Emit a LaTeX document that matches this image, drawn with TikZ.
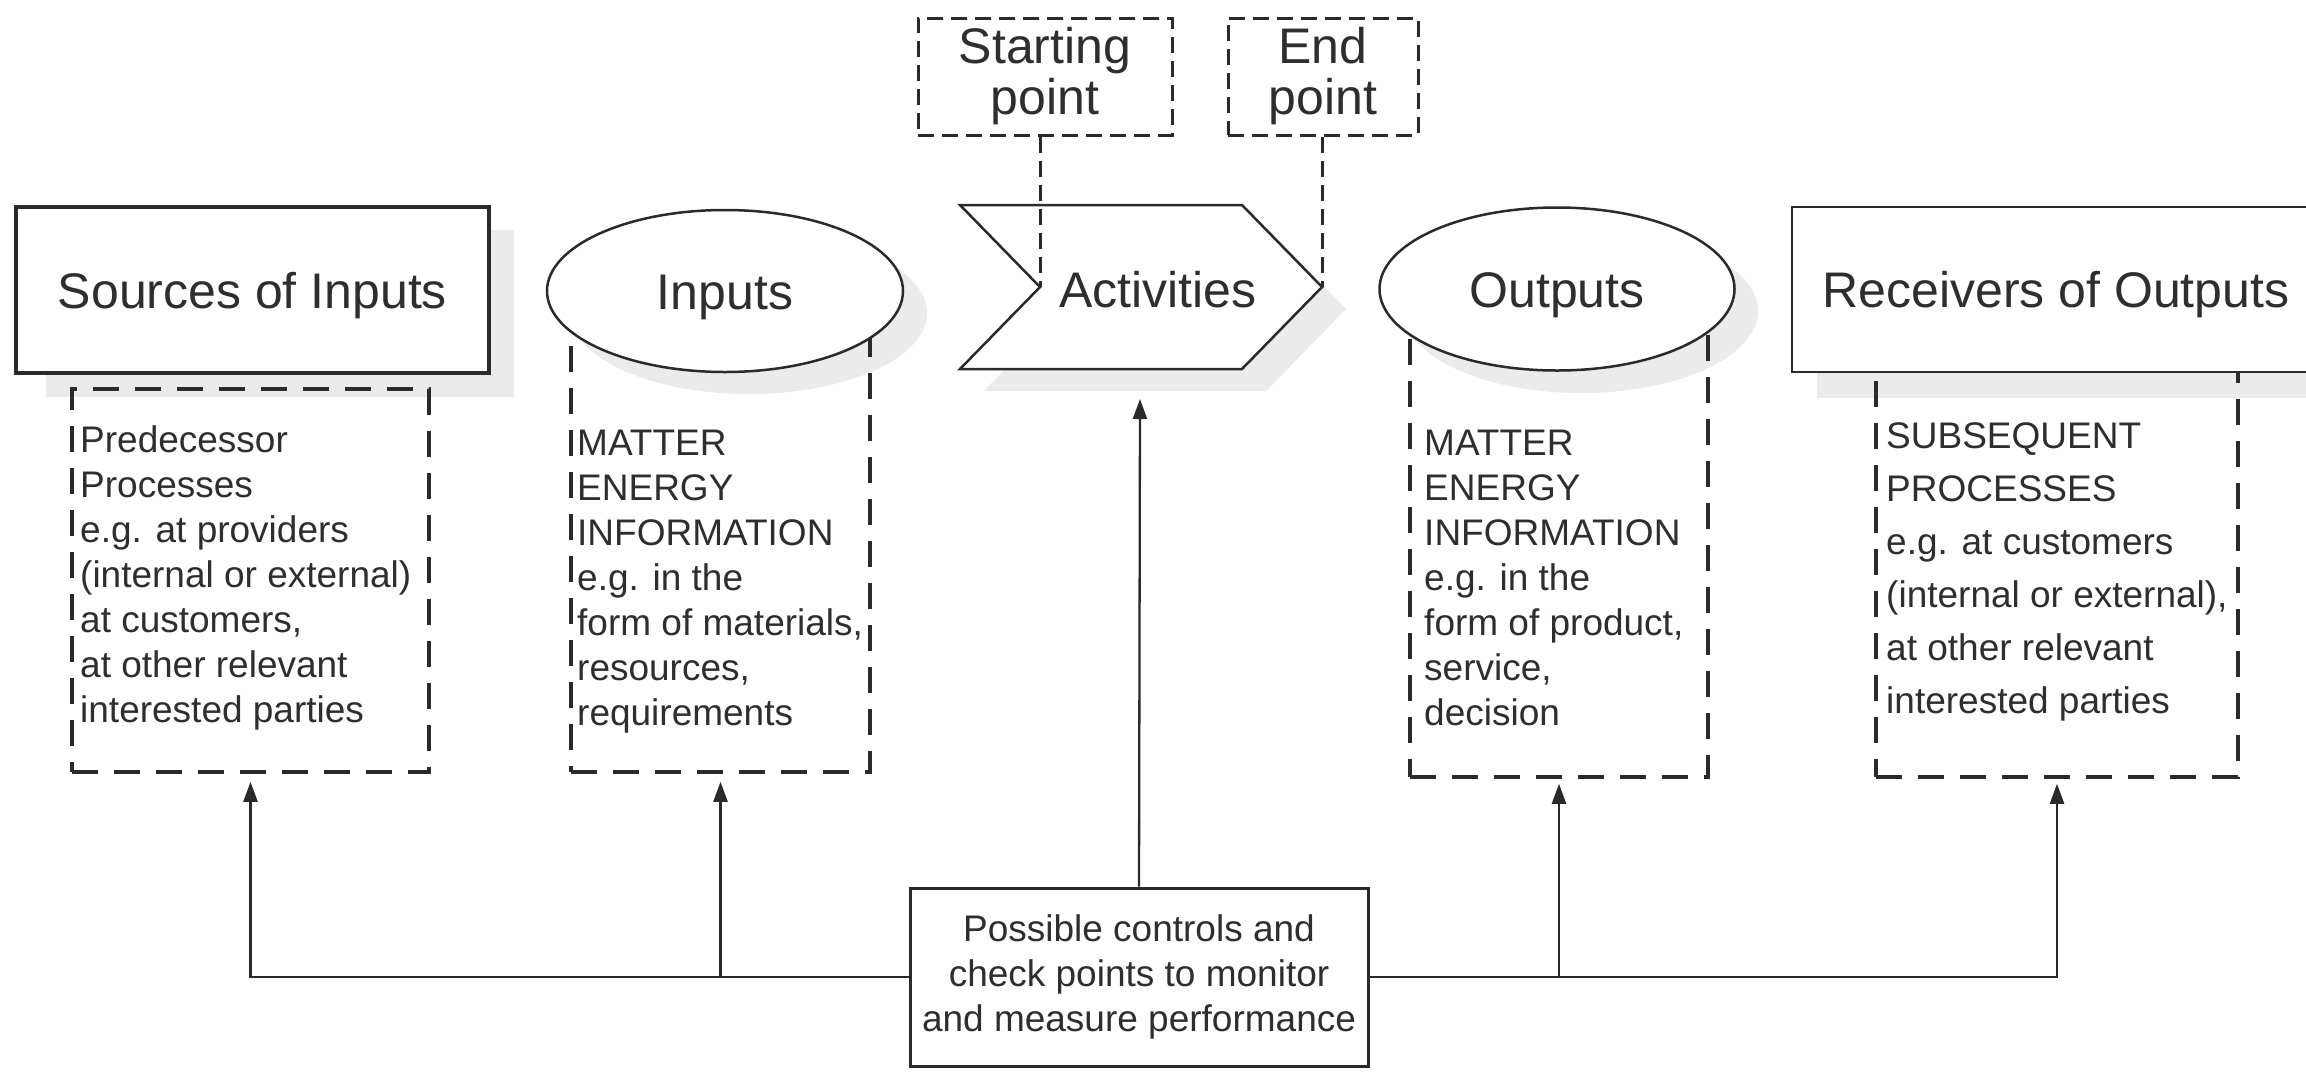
\documentclass[tikz,border=0pt]{standalone}
\usepackage{fontspec}
\setmainfont{Liberation Sans}
\usetikzlibrary{shapes.geometric,arrows.meta,calc}
\definecolor{ink}{HTML}{2A2A2A}
\definecolor{txt}{HTML}{2E2E2E}
\definecolor{shadowgray}{HTML}{EBEBEB}
\begin{document}
\begin{tikzpicture}[x=1pt,y=-1pt,
  heading/.style={font=\fontsize{50}{52}\selectfont, text=txt, text height=36pt, text depth=0pt},
  body/.style={font=\fontsize{37}{45}\selectfont, text=txt, inner sep=0pt},
  solidbox/.style={draw=ink, fill=white, rectangle},
  oval/.style={ellipse, draw=ink, fill=white, line width=2.5pt, inner sep=0pt},
  dbox/.style={draw=ink, line width=3.5pt, dash pattern=on 26pt off 16pt, rectangle, inner sep=0pt},
  tbox/.style={draw=ink, line width=3pt, dash pattern=on 16pt off 8pt, rectangle, inner sep=0pt, align=center, font=\fontsize{50}{51}\selectfont, text=txt},
  tline/.style={draw=ink, line width=3pt, dash pattern=on 16pt off 8pt},
  arr/.style={draw=ink, line width=2.3pt, -{Triangle[length=20pt,width=14pt]}},
  shadowfill/.style={fill=shadowgray, draw=none},
]
\fill[white] (0,0) rectangle (2306,1072);
\useasboundingbox (0,0) rectangle (2306,1072);

% shadows
\path[shadowfill] (46,230) rectangle (514,397);
\path[shadowfill] (749,313) ellipse [x radius=178pt, y radius=81pt];
\path[shadowfill] (984,227) -- (1266,227) -- (1346,309) -- (1266,391) -- (984,391) -- (1064,309) -- cycle;
\path[shadowfill] (1581,311) ellipse [x radius=177pt, y radius=82pt];
\path[shadowfill] (1817,230) rectangle (2306,398);

% dashed detail boxes
\node[dbox, minimum width=357pt, minimum height=383pt] (d1) at (250.5,580.5) {};
\node[dbox, minimum width=299pt, minimum height=481pt] (d2) at (720.5,531.5) {};
\node[dbox, minimum width=298pt, minimum height=488pt] (d3) at (1559,533) {};
\node[dbox, minimum width=362pt, minimum height=487pt] (d4) at (2057,533.5) {};

% main shapes
\node[solidbox, line width=4.5pt, minimum width=473pt, minimum height=166pt, heading] (src) at (252.5,290) {Sources of Inputs};
\node[oval, minimum width=356pt, minimum height=162pt, heading] (inp) at (725,291) {Inputs};
\coordinate (c1) at (960,205);
\coordinate (c2) at (1242,205);
\coordinate (c3) at (1322,287);
\coordinate (c4) at (1242,369);
\coordinate (c5) at (960,369);
\coordinate (c6) at (1040,287);
\draw[draw=ink, line width=2.5pt, fill=white, line join=miter] (c1) -- (c2) -- (c3) -- (c4) -- (c5) -- (c6) -- cycle;
\node[heading] (act) at (1158,289) {Activities};
\node[oval, minimum width=355pt, minimum height=163pt, heading] (out) at (1557,289) {Outputs};
\node[solidbox, line width=2.5pt, minimum width=528pt, minimum height=165pt, heading] (rcv) at (2056,289.5) {Receivers of Outputs};

% starting / end point
\node[tbox, minimum width=254pt, minimum height=117pt] (sp) at (1045,76.5) {Starting\\point};
\node[tbox, minimum width=190pt, minimum height=117pt] (ep) at (1323,76.5) {End\\point};
\draw[tline] (sp.south -| c6) -- (c6);
\draw[tline] (ep.south -| c3) -- (c3);

% texts
\node[body, anchor=base west] (t1) at (80,452) {\vtop{\hbox{Predecessor}\hbox{Processes}\hbox{e.g. at providers}\hbox{(internal or external)}\hbox{at customers,}\hbox{at other relevant}\hbox{interested parties}}};
\node[body, anchor=base west] (t2) at (577,455) {\vtop{\hbox{MATTER}\hbox{ENERGY}\hbox{INFORMATION}\hbox{e.g. in the}\hbox{form of materials,}\hbox{resources,}\hbox{requirements}}};
\node[body, anchor=base west] (t3) at (1424,455) {\vtop{\hbox{MATTER}\hbox{ENERGY}\hbox{INFORMATION}\hbox{e.g. in the}\hbox{form of product,}\hbox{service,}\hbox{decision}}};
\node[body, anchor=base west] (t4) at (1886,448) {\vtop{\baselineskip=53pt\hbox{SUBSEQUENT}\hbox{PROCESSES}\hbox{e.g. at customers}\hbox{(internal or external),}\hbox{at other relevant}\hbox{interested parties}}};

% controls
\node[solidbox, line width=3pt, minimum width=458pt, minimum height=178pt, body, align=center] (ctl) at (1139,977) {Possible controls and\\check points to monitor\\and measure performance};
\coordinate (actb) at (1140,399);
\draw[arr] (ctl.north) -- (actb);
\draw[arr] (ctl.west) -| ([yshift=-8pt]d1.south);
\draw[arr] (ctl.west -| d2.south) -- ([yshift=-8pt]d2.south);
\draw[arr] (ctl.east) -| ([yshift=-5pt]d4.south);
\draw[arr] (ctl.east -| d3.south) -- ([yshift=-5pt]d3.south);
\end{tikzpicture}
\end{document}
